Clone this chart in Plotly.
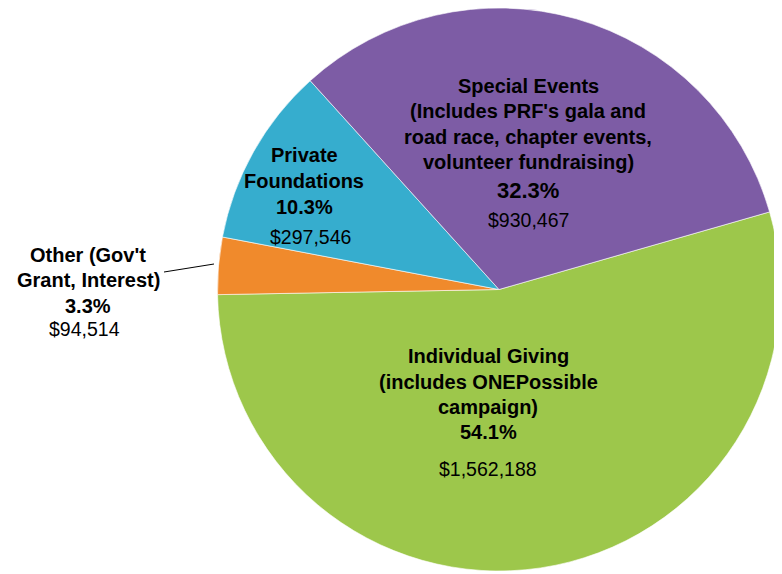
import plotly.graph_objects as go

categories = ["Individual Giving<br>(includes ONEPossible<br>campaign)",
              "Other (Gov't<br>Grant, Interest)",
              "Private<br>Foundations",
              "Special Events<br>(Includes PRF's gala and<br>road race, chapter events,<br>volunteer fundraising)"]
values = [1562188, 94514, 297546, 930467]
percent_labels = ["54.1%", "3.3%", "10.3%", "32.3%"]
dollar_labels = ["$1,562,188", "$94,514", "$297,546", "$930,467"]
colors = ["#9DC74B", "#F08A2C", "#36ADCE", "#7D5CA5"]

W, H = 782, 574
OFF = 8  # page body margin offset


def px(x):
    return (x - OFF) / W


def py(y):
    return 1 - (y - OFF) / H


# pie centre (499, 289) radius 282 in page pixels
cx, cy, r = 499, 289, 282
dom_x = [px(cx - r), px(cx + r)]
dom_y = [max(py(cy + r), 0), min(py(cy - r), 1)]

fig = go.Figure(go.Pie(
    labels=categories,
    values=values,
    sort=False,
    direction="clockwise",
    rotation=74,
    marker=dict(colors=colors, line=dict(color="rgba(255,255,255,0.6)", width=1)),
    textinfo="none",
    hoverinfo="label+percent+value",
    domain=dict(x=dom_x, y=dom_y),
    showlegend=False,
))

FONT = "Arial, Liberation Sans, sans-serif"
# block centre x, first-line y, line spacing (px)
label_pos = [(488, 356, 25.5), (88, 255, 25), (304, 155, 26), (528, 86, 25.3)]
pct_pos = [(488, 432), (88, 306), (304, 207), (528, 190)]
pct_size = [20, 20, 20, 22]
dollar_pos = [(488, 469), (84, 329), (310, 237), (528, 220)]

ann = []
for i in range(len(categories)):
    lx, ly, sp = label_pos[i]
    for j, line in enumerate(categories[i].split("<br>")):
        ann.append(dict(x=px(lx), y=py(ly + j * sp), xref="paper", yref="paper",
                        xanchor="center", yanchor="middle", showarrow=False,
                        text="<b>" + line + "</b>",
                        font=dict(family=FONT, size=20, color="#000000")))
    ax, ay = pct_pos[i]
    ann.append(dict(x=px(ax), y=py(ay), xref="paper", yref="paper",
                    xanchor="center", yanchor="middle", showarrow=False,
                    text="<b>" + percent_labels[i] + "</b>",
                    font=dict(family=FONT, size=pct_size[i], color="#000000")))
    dx, dy = dollar_pos[i]
    ann.append(dict(x=px(dx), y=py(dy), xref="paper", yref="paper",
                    xanchor="center", yanchor="middle", showarrow=False,
                    text=dollar_labels[i],
                    font=dict(family=FONT, size=19.5, color="#000000")))

fig.update_layout(
    width=W, height=H,
    margin=dict(l=0, r=0, t=0, b=0),
    paper_bgcolor="white",
    plot_bgcolor="white",
    annotations=ann,
    shapes=[dict(type="line", xref="paper", yref="paper",
                 x0=px(164), y0=py(272), x1=px(214), y1=py(264),
                 line=dict(color="#000000", width=1))],
)

fig.write_html("out.html")
